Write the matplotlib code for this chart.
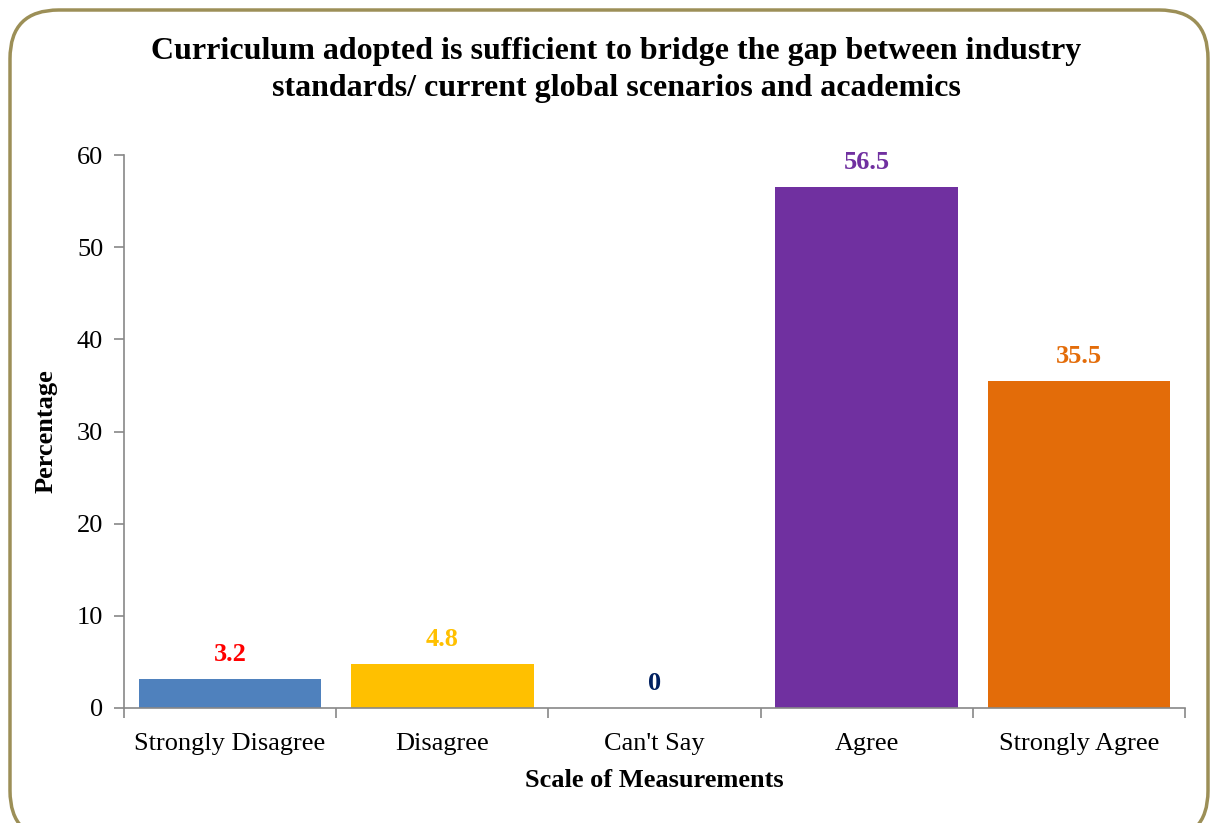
import matplotlib.pyplot as plt
from matplotlib.patches import FancyBboxPatch

categories = ["Strongly Disagree", "Disagree", "Can't Say", "Agree", "Strongly Agree"]
values = [3.2, 4.8, 0, 56.5, 35.5]
bar_colors = ["#4F81BD", "#FFC000", "#1F3864", "#7030A0", "#E36C09"]
label_colors = ["#FF0000", "#FFC000", "#002060", "#7030A0", "#E36C09"]

plt.rcParams['font.family'] = ['Liberation Serif', 'DejaVu Serif']

fig = plt.figure(figsize=(12.17, 8.23), dpi=100)

# rounded border around the chart area
border = FancyBboxPatch((10 / 1217, -0.02), 1198 / 1217, 1.0 - 10 / 823 + 0.02,
                        boxstyle="round,pad=0,rounding_size=0.04",
                        transform=fig.transFigure, fill=False,
                        edgecolor="#9C8F57", linewidth=2.5, mutation_aspect=1217 / 823)
fig.patches.append(border)

ax = fig.add_axes([124 / 1217, 1 - 708 / 823, (1185 - 124) / 1217, (708 - 155) / 823])

x = range(len(categories))
ax.bar(x, values, width=0.86, color=bar_colors)

for i, v in enumerate(values):
    ax.text(i, v + 1.4, f"{v:g}", ha='center', va='bottom', fontsize=19,
            fontweight='bold', color=label_colors[i])

ax.set_xlim(-0.5, len(categories) - 0.5)
ax.set_ylim(0, 60)
ax.set_yticks(range(0, 61, 10))

# tick marks between categories, labels at the centre
ax.set_xticks([i - 0.5 for i in range(len(categories) + 1)])
ax.set_xticklabels([])
ax.set_xticks(list(x), minor=True)
ax.set_xticklabels(categories, minor=True)
ax.tick_params(axis='x', which='major', length=7, color='#888888', width=1.2)
ax.tick_params(axis='x', which='minor', length=0, labelsize=19, pad=18)
ax.tick_params(axis='y', length=7, color='#888888', width=1.2, labelsize=19, pad=8)

for side in ['top', 'right']:
    ax.spines[side].set_visible(False)
for side in ['left', 'bottom']:
    ax.spines[side].set_color('#888888')
    ax.spines[side].set_linewidth(1.2)

ax.set_xlabel("Scale of Measurements", fontsize=19, fontweight='bold', labelpad=10)
ax.set_ylabel("Percentage", fontsize=19, fontweight='bold', labelpad=14)

fig.text(616 / 1217, 1 - 70 / 823,
         "Curriculum adopted is sufficient to bridge the gap between industry\n"
         "standards/ current global scenarios and academics",
         ha='center', va='center', fontsize=23, fontweight='bold', linespacing=1.4)

fig.savefig("out.png", dpi=100)
